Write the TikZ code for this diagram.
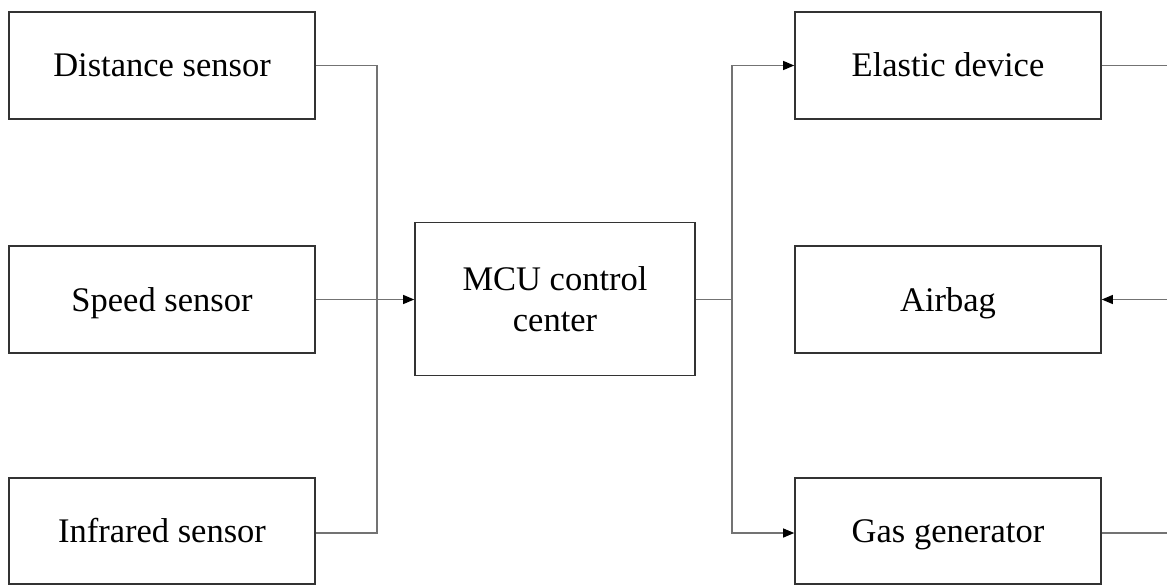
\documentclass[tikz,border=0pt]{standalone}
\usepackage{fontspec}
\setmainfont{Liberation Serif}
\usetikzlibrary{arrows.meta}
\begin{document}
\begin{tikzpicture}[x=1pt,y=-1pt,
  box/.style={draw=black!80, line width=1.6pt, minimum width=306pt, minimum height=107pt, inner sep=0pt, font=\fontsize{34.5}{41}\selectfont, align=center},
  one/.style={text height=23pt, text depth=0pt},
  conn/.style={draw=black!55, line width=1.1pt},
  arr/.style={conn, -{Triangle[length=11pt,width=9pt,fill=black,color=black]}}]
\useasboundingbox (0,0) rectangle (1167,586);
\fill[white] (0,0) rectangle (1167,586);
% left column
\node[box, one] (dist) at (162,65.5) {Distance sensor};
\node[box, one] (speed) at (162,299.5) {Speed sensor};
\node[box, one, minimum height=106pt] (inf) at (162,531) {Infrared sensor};
% centre
\node[box, minimum width=280pt, minimum height=153pt] (mcu) at (555,299) {MCU control\\center};
% right column
\node[box, one] (elastic) at (948,65.5) {Elastic device};
\node[box, one] (airbag) at (948,299.5) {Airbag};
\node[box, one, minimum height=106pt] (gas) at (948,531) {Gas generator};
% coordinates
\coordinate (busLtop) at (377,65.5);
\coordinate (busLbot) at (377,533);
\coordinate (busR) at (732,299.5);
\coordinate (busRtop) at (732,65.5);
\coordinate (busRbot) at (732,533);
\coordinate (rE) at (1175,65.5);
\coordinate (rA) at (1175,299.5);
\coordinate (rG) at (1175,533);
% connectors
\draw[conn] (dist.east) -- (busLtop) -- (busLbot) -- (inf.east |- busLbot);
\draw[arr] (speed.east) -- (mcu.west |- speed.east);
\draw[conn] (mcu.east |- busR) -- (busR);
\draw[arr] (busR) -- (busRtop) -- (elastic.west);
\draw[arr] (busR) -- (busRbot) -- (gas.west |- busRbot);
\draw[conn] (elastic.east) -- (rE);
\draw[arr] (rA) -- (airbag.east);
\draw[conn] (gas.east |- rG) -- (rG);
\end{tikzpicture}
\end{document}
